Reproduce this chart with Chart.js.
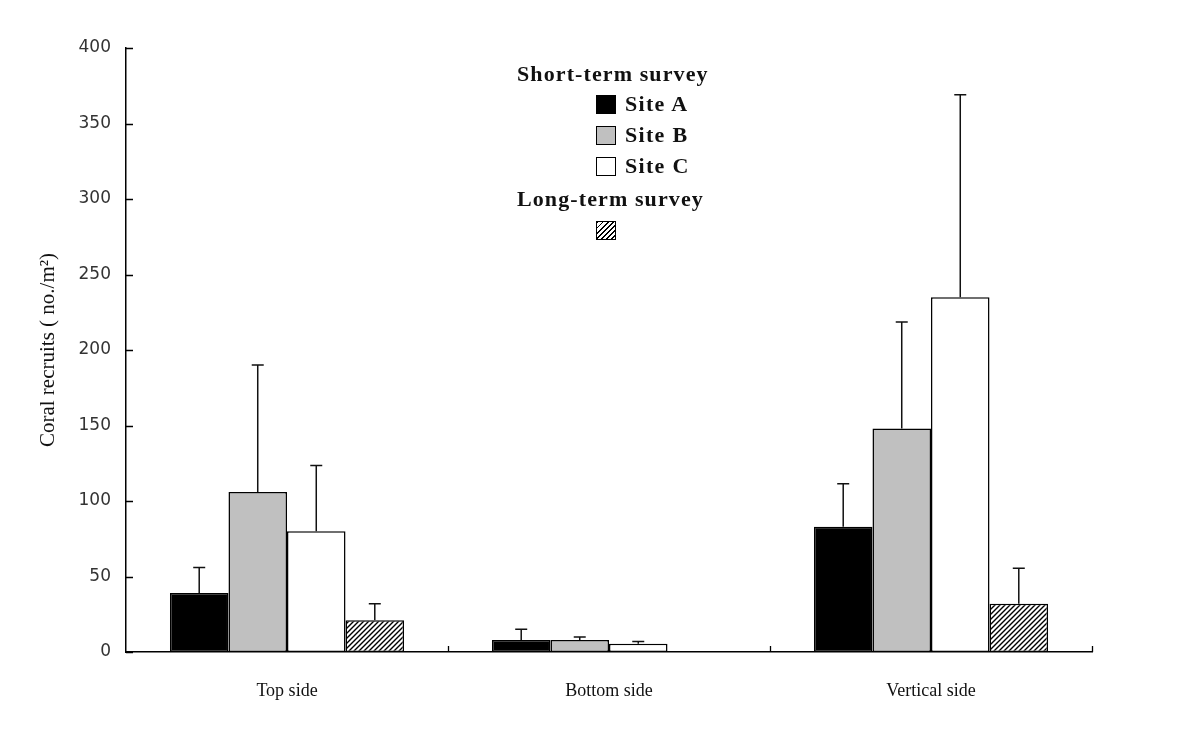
<!DOCTYPE html>
<html>
<head>
<meta charset="utf-8">
<script src="https://cdn.jsdelivr.net/npm/chart.js@4/dist/chart.umd.min.js"></script>
<style>
  body { margin: 0; background: #fff; }
  #wrap { position: relative; width: 1200px; height: 735px; }
  #legend { position: absolute; left: 0; top: 0; font-family: "Liberation Serif", serif; font-weight: bold; color: #111; }
  .lg-title { position: absolute; font-size: 22px; letter-spacing: 1.1px; white-space: nowrap; line-height: 1; }
  .lg-box { position: absolute; width: 20px; height: 19px; border: 1.5px solid #000; box-sizing: border-box; }
  .lg-label { position: absolute; font-size: 22px; letter-spacing: 1.3px; white-space: nowrap; line-height: 1; }
</style>
</head>
<body>
<div id="wrap">
  <canvas id="chart" width="1200" height="735"></canvas>
  <div id="legend"></div>
</div>
<script>
// ── data ────────────────────────────────────────────────────────────────────
const categories   = ['Top side', 'Bottom side', 'Vertical side'];
const yTicks       = [0, 50, 100, 150, 200, 250, 300, 350, 400];

const siteA        = [39, 8, 83];
const siteAErr     = [17, 7, 28.5];
const siteB        = [106, 8, 148];
const siteBErr     = [84, 2, 70.5];
const siteC        = [80, 5.5, 235];
const siteCErr     = [43.5, 1.5, 134];
const longTerm     = [21, 0, 32];
const longTermErr  = [11, 0, 23.5];

// diagonal hatch used for the long-term survey
function hatchPattern() {
  const c = document.createElement('canvas');
  c.width = 5; c.height = 5;
  const g = c.getContext('2d');
  g.fillStyle = '#fff';
  g.fillRect(0, 0, 5, 5);
  g.strokeStyle = '#000';
  g.lineWidth = 1.4;
  g.beginPath();
  g.moveTo(-1, 6); g.lineTo(6, -1);
  g.moveTo(-1, 1); g.lineTo(1, -1);
  g.moveTo(4, 6);  g.lineTo(6, 4);
  g.stroke();
  return g.createPattern(c, 'repeat');
}

const errors = [siteAErr, siteBErr, siteCErr, longTermErr];

// upper error bars with caps, positioned through the y scale
const errorBars = {
  id: 'errorBars',
  afterDatasetsDraw(chart) {
    const ctx = chart.ctx;
    const y = chart.scales.y;
    ctx.save();
    ctx.strokeStyle = '#111';
    ctx.lineWidth = 1.5;
    chart.data.datasets.forEach((ds, i) => {
      const meta = chart.getDatasetMeta(i);
      meta.data.forEach((bar, j) => {
        const err = errors[i][j];
        if (!err) return;
        const top = y.getPixelForValue(ds.data[j] + err);
        ctx.beginPath();
        ctx.moveTo(bar.x, bar.y);
        ctx.lineTo(bar.x, top);
        ctx.moveTo(bar.x - 6, top);
        ctx.lineTo(bar.x + 6, top);
        ctx.stroke();
      });
    });
    ctx.restore();
  }
};

// tick marks pointing into the plot, as in the figure
const innerTicks = {
  id: 'innerTicks',
  afterDraw(chart) {
    const { ctx, chartArea, scales: { x, y } } = chart;
    ctx.save();
    ctx.strokeStyle = '#000';
    ctx.lineWidth = 1.3;
    ctx.beginPath();
    yTicks.forEach(v => {
      const py = Math.round(y.getPixelForValue(v)) + 0.5;
      ctx.moveTo(chartArea.left, py);
      ctx.lineTo(chartArea.left + 7, py);
    });
    categories.forEach((_, k) => {
      const px = Math.round(x.getPixelForValue(k + 0.5)) + 0.5;
      ctx.moveTo(px, chartArea.bottom);
      ctx.lineTo(px, chartArea.bottom - 6);
    });
    ctx.stroke();
    ctx.restore();
  }
};

const common = { borderColor: '#000', borderWidth: 1.5, borderSkipped: false };

new Chart(document.getElementById('chart'), {
  type: 'bar',
  data: {
    labels: categories,
    datasets: [
      { label: 'Site A', data: siteA, backgroundColor: '#000', ...common },
      { label: 'Site B', data: siteB, backgroundColor: '#c0c0c0', ...common },
      { label: 'Site C', data: siteC, backgroundColor: '#fff', ...common },
      { label: 'Long-term', data: longTerm, backgroundColor: hatchPattern(), ...common },
    ],
  },
  plugins: [errorBars, innerTicks],
  options: {
    responsive: false,
    animation: false,
    layout: { padding: { top: 48, right: 108, left: 36, bottom: 0 } },
    datasets: { bar: { categoryPercentage: 0.727, barPercentage: 1 } },
    plugins: { legend: { display: false }, tooltip: { enabled: false } },
    scales: {
      x: {
        offset: true,
        grid: { display: false, drawTicks: false },
        border: { color: '#000', width: 1.5 },
        ticks: { color: '#111', padding: 28, font: { family: 'Liberation Serif', size: 18 } },
        afterFit(s) { s.height = 83; },
      },
      y: {
        min: 0, max: 400,
        afterBuildTicks(s) { s.ticks = yTicks.map(v => ({ value: v })); },
        grid: { display: false, drawTicks: false },
        border: { color: '#000', width: 1.5 },
        ticks: { color: '#333', padding: 15, font: { family: 'DejaVu Sans', size: 17 } },
        title: {
          display: true,
          text: 'Coral recruits ( no./m\u00B2)',
          color: '#111',
          padding: { top: 0, bottom: 0 },
          font: { family: 'Liberation Serif', size: 21 },
        },
        afterFit(s) { s.width = 90; },
      },
    },
  },
});

// legend laid out like the figure
const legend = document.getElementById('legend');
function add(cls, css, text) {
  const el = document.createElement('div');
  el.className = cls;
  Object.assign(el.style, css);
  if (text) el.textContent = text;
  legend.appendChild(el);
  return el;
}
add('lg-title', { left: '517px', top: '63px' }, 'Short-term survey');
const items = [['Site A', '#000'], ['Site B', '#c0c0c0'], ['Site C', '#fff']];
items.forEach(([name, fill], k) => {
  const cy = 105 + k * 31;
  add('lg-box', { left: '596px', top: (cy - 10) + 'px', background: fill });
  add('lg-label', { left: '625px', top: (cy - 12) + 'px' }, name);
});
add('lg-title', { left: '517px', top: '188px' }, 'Long-term survey');
add('lg-box', {
  left: '596px', top: '221px',
  background: 'repeating-linear-gradient(135deg, #000 0 1.3px, #fff 1.3px 3.6px)'
});
</script>
</body>
</html>
